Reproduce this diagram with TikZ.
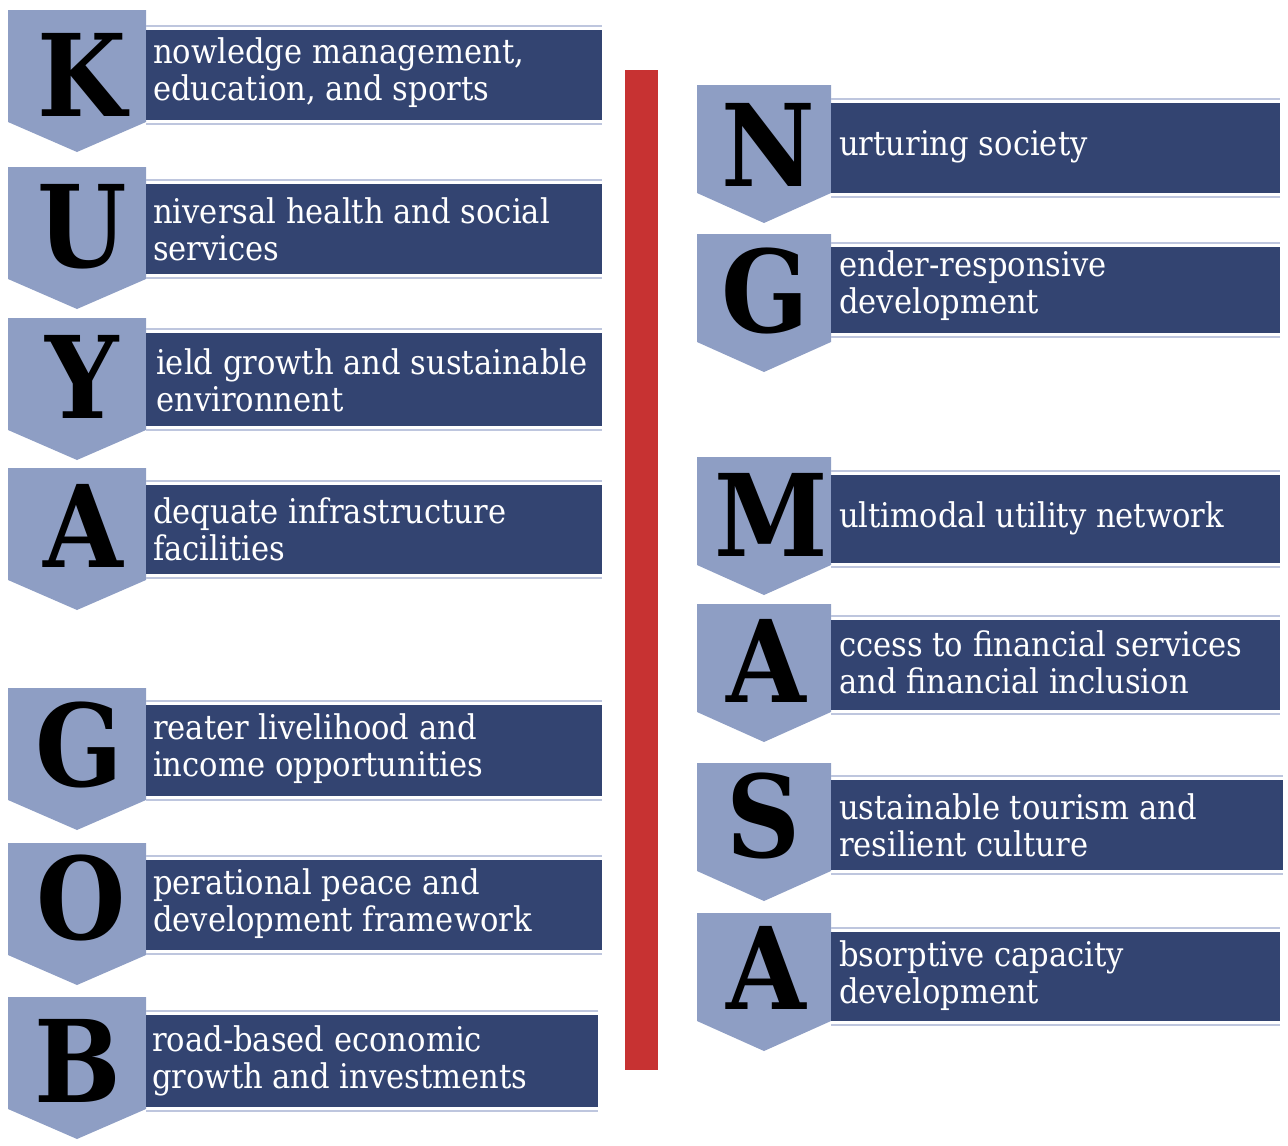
\documentclass[tikz,border=0pt]{standalone}
\usepackage{fontspec}
\setmainfont{DejaVu Serif Condensed}
\usepackage{tikz}

\definecolor{chevblue}{RGB}{142,158,196}
\definecolor{barnavy}{RGB}{51,68,113}
\definecolor{rulelight}{RGB}{190,198,222}
\definecolor{kred}{RGB}{199,50,50}

\tikzset{
  chev/.style={fill=chevblue},
  bar/.style={fill=barnavy},
  barline/.style={draw=rulelight, line width=1.5pt},
  letter/.style={font=\fontsize{114}{114}\selectfont\bfseries, inner sep=0pt, text=black},
  itemtext/.style={anchor=west, align=left, text=white, inner sep=0pt, font=\fontsize{34}{37}\selectfont}
}

\begin{document}
\begin{tikzpicture}[x=1pt,y=-1pt]
\useasboundingbox (0,0) rectangle (1288,1146);

% red divider
\fill[kred] (625,70) rectangle (658,1070);

% K
\fill[chev] (8,10) -- ++(138,0) -- ++(0,112) -- ++(-69,30) -- ++(-69,-30) -- cycle;
\fill[bar] (146,30) rectangle (602,120);
\draw[barline] (146,26) -- (602,26) (146,124) -- (602,124);
\node[letter] (k) at (82,75) {K};
\node[itemtext] (ktext) at (153,73) {nowledge management,\\education, and sports};

% U
\fill[chev] (8,167) -- ++(138,0) -- ++(0,112) -- ++(-69,30) -- ++(-69,-30) -- cycle;
\fill[bar] (146,184) rectangle (602,274);
\draw[barline] (146,180) -- (602,180) (146,278) -- (602,278);
\node[letter] (u) at (82,227) {U};
\node[itemtext] (utext) at (153,229) {niversal health and social\\services};

% Y
\fill[chev] (8,318) -- ++(138,0) -- ++(0,112) -- ++(-69,30) -- ++(-69,-30) -- cycle;
\fill[bar] (146,333) rectangle (602,426);
\draw[barline] (146,329) -- (602,329) (146,430) -- (602,430);
\node[letter] (y) at (82,377) {Y};
\node[itemtext] (ytext) at (156,380) {ield growth and sustainable\\environnent};

% A
\fill[chev] (8,468) -- ++(138,0) -- ++(0,112) -- ++(-69,30) -- ++(-69,-30) -- cycle;
\fill[bar] (146,485) rectangle (602,574);
\draw[barline] (146,481) -- (602,481) (146,578) -- (602,578);
\node[letter] (a1) at (83,526) {A};
\node[itemtext] (a1text) at (153,529) {dequate infrastructure\\facilities};

% G
\fill[chev] (8,688) -- ++(138,0) -- ++(0,112) -- ++(-69,30) -- ++(-69,-30) -- cycle;
\fill[bar] (146,705) rectangle (602,796);
\draw[barline] (146,701) -- (602,701) (146,800) -- (602,800);
\node[letter] (g1) at (79,745) {G};
\node[itemtext] (g1text) at (153,749) {reater livelihood and\\income opportunities};

% O
\fill[chev] (8,843) -- ++(138,0) -- ++(0,112) -- ++(-69,30) -- ++(-69,-30) -- cycle;
\fill[bar] (146,860) rectangle (602,950);
\draw[barline] (146,856) -- (602,856) (146,954) -- (602,954);
\node[letter] (o) at (81,898) {O};
\node[itemtext] (otext) at (153,904) {perational peace and\\development framework};

% B
\fill[chev] (8,997) -- ++(138,0) -- ++(0,112) -- ++(-69,30) -- ++(-69,-30) -- cycle;
\fill[bar] (146,1015) rectangle (598,1107);
\draw[barline] (146,1011) -- (598,1011) (146,1111) -- (598,1111);
\node[letter] (b) at (78,1061) {B};
\node[itemtext] (btext) at (152,1061) {road-based economic\\growth and investments};

% N
\fill[chev] (697,85) -- ++(134,0) -- ++(0,108) -- ++(-67,30) -- ++(-67,-30) -- cycle;
\fill[bar] (831,103) rectangle (1280,193);
\draw[barline] (831,99) -- (1280,99) (831,197) -- (1280,197);
\node[letter] (n) at (768,145) {N};
\node[itemtext] (ntext) at (839,147) {urturing society};

% G
\fill[chev] (697,234) -- ++(134,0) -- ++(0,108) -- ++(-67,30) -- ++(-67,-30) -- cycle;
\fill[bar] (831,247) rectangle (1280,333);
\draw[barline] (831,243) -- (1280,243) (831,337) -- (1280,337);
\node[letter] (g2) at (765,291) {G};
\node[itemtext] (g2text) at (839,286) {ender-responsive\\development};

% M
\fill[chev] (697,457) -- ++(134,0) -- ++(0,108) -- ++(-67,30) -- ++(-67,-30) -- cycle;
\fill[bar] (831,475) rectangle (1280,563);
\draw[barline] (831,471) -- (1280,471) (831,567) -- (1280,567);
\node[letter] (m) at (771,515) {M};
\node[itemtext] (mtext) at (839,518) {ultimodal utility network};

% A
\fill[chev] (697,604) -- ++(134,0) -- ++(0,108) -- ++(-67,30) -- ++(-67,-30) -- cycle;
\fill[bar] (831,620) rectangle (1280,710);
\draw[barline] (831,616) -- (1280,616) (831,714) -- (1280,714);
\node[letter] (a2) at (766,661) {A};
\node[itemtext] (a2text) at (839,662) {ccess to financial services\\and financial inclusion};

% S
\fill[chev] (697,763) -- ++(134,0) -- ++(0,108) -- ++(-67,30) -- ++(-67,-30) -- cycle;
\fill[bar] (831,780) rectangle (1283,870);
\draw[barline] (831,776) -- (1283,776) (831,874) -- (1283,874);
\node[letter] (s) at (764,816) {S};
\node[itemtext] (stext) at (839,825) {ustainable tourism and\\resilient culture};

% A
\fill[chev] (697,913) -- ++(134,0) -- ++(0,108) -- ++(-67,30) -- ++(-67,-30) -- cycle;
\fill[bar] (831,932) rectangle (1280,1021);
\draw[barline] (831,928) -- (1280,928) (831,1025) -- (1280,1025);
\node[letter] (a3) at (766,968) {A};
\node[itemtext] (a3text) at (839,976) {bsorptive capacity\\development};

\end{tikzpicture}
\end{document}
